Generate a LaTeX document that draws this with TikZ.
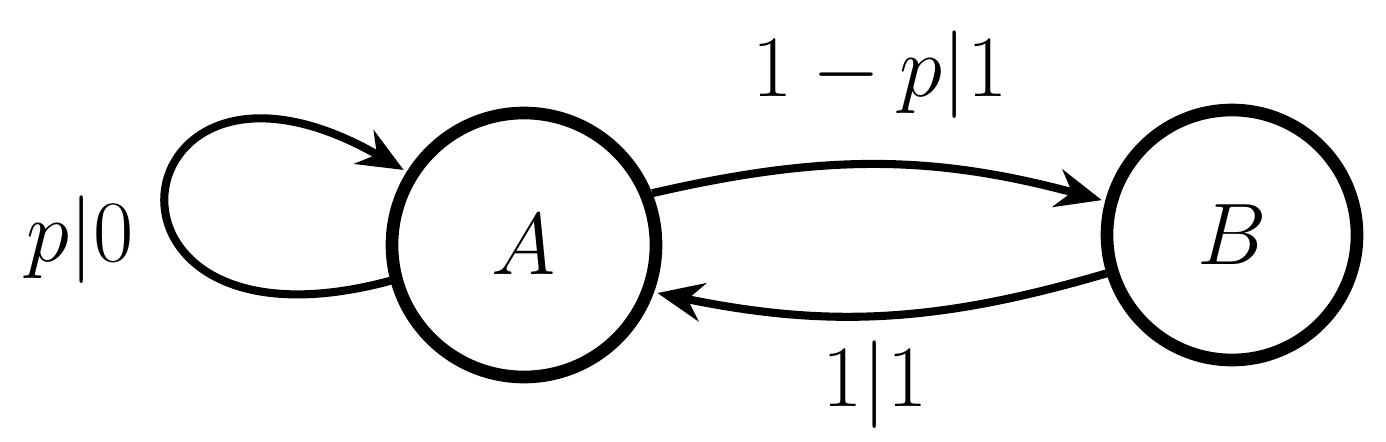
\documentclass[tikz,border=0pt]{standalone}
\usetikzlibrary{arrows.meta}
\tikzset{>={Stealth[length=13pt,width=11pt]}}
\tikzset{
  state/.style={draw,circle,line width=3.6pt,inner sep=0pt},
  trans/.style={->,line width=2.3pt,shorten >=1pt},
  lbl/.style={font=\fontsize{26}{30}\selectfont}
}
\begin{document}
\begin{tikzpicture}
    \useasboundingbox (0,0) rectangle (13.86,4.41);
    \node[state,minimum size=2.64cm,lbl](A) at (5.24,1.96) {$A$};
    \node[state,minimum size=2.50cm,lbl](B) at (12.32,2.06) {$B$};
    \draw[trans] (A.195) to[out=195,in=150,looseness=7.8] (A.148);
    \draw[trans] (A.22) to[bend left=14] (B.165);
    \draw[trans] (B.197) to[bend left=14] (A.-20);
    \node[lbl](pz) at (0.8,2.01) {$p|0$};
    \node[lbl](ta) at (8.8,3.66) {$1-p|1$};
    \node[lbl](tb) at (8.75,0.56) {$1|1$};
\end{tikzpicture}
\end{document}
